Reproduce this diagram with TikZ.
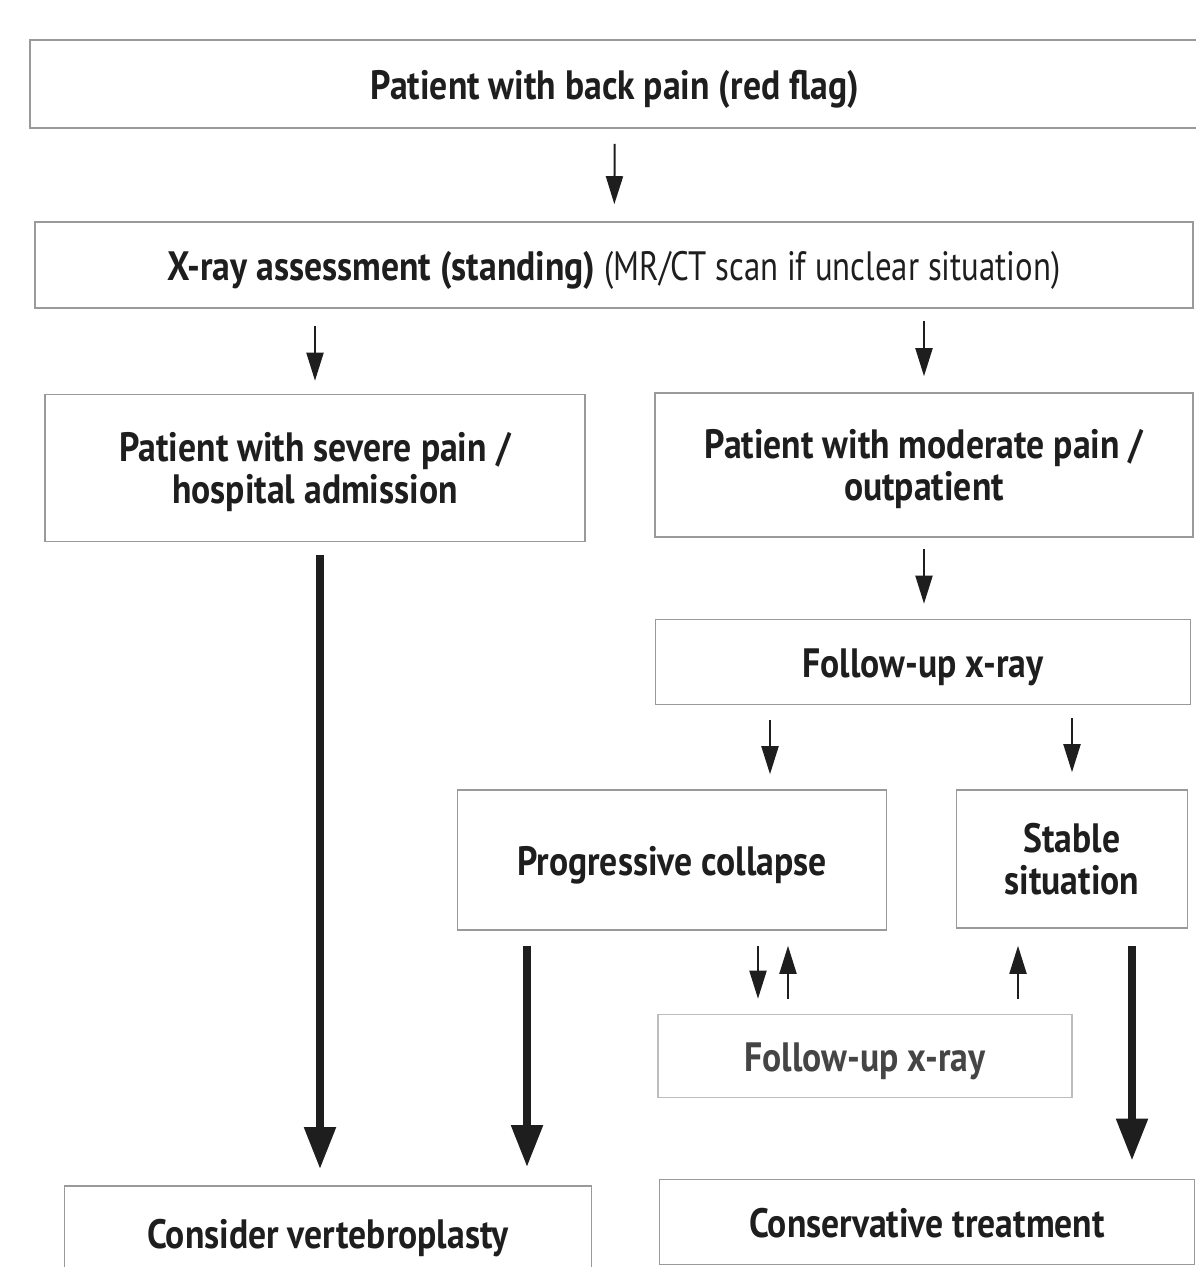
\documentclass[tikz,border=0pt]{standalone}
\usepackage{fontspec}
\setmainfont{PT Sans}[FakeStretch=0.8, BoldFeatures={FakeStretch=0.87}]
\usepackage{tikz}
\usetikzlibrary{arrows.meta}

\definecolor{inkdark}{HTML}{1E1E1E}
\definecolor{boxline}{HTML}{9A9A9A}
\definecolor{boxlight}{HTML}{BDBDBD}
\definecolor{inkgray}{HTML}{454545}

\begin{document}
\begin{tikzpicture}[
  x=1pt, y=-1pt,
  font=\fontsize{41}{42}\selectfont,
  box/.style={draw=boxline, line width=1.6pt, align=center, inner sep=0pt, text=inkdark, font=\fontsize{41}{42}\selectfont\bfseries},
  oneline/.style={text height=31pt, text depth=1pt},
  twoline/.style={text depth=0pt},
  lightbox/.style={box, draw=boxlight, text=inkgray},
  thinarr/.style={draw=inkdark, line width=2pt, -{Triangle[length=28pt,width=17pt]}},
  thickarr/.style={draw=inkdark, line width=8pt, -{Triangle[length=42pt,width=30pt]}}
]
\useasboundingbox (0,0) rectangle (1195,1267);

\node[box, oneline, minimum width=1170pt, minimum height=88pt] (top) at (615,84) {Patient with back pain (red flag)};
\node[box, oneline, minimum width=1158pt, minimum height=86pt] (xray) at (614,265) {X-ray assessment (standing) \mdseries(MR/CT scan if unclear situation)};
\node[box, twoline, minimum width=540pt, minimum height=147pt] (severe) at (315,468) {Patient with severe pain /\\hospital admission};
\node[box, twoline, minimum width=538pt, minimum height=144pt] (moderate) at (924,465) {Patient with moderate pain /\\outpatient};
\node[box, oneline, minimum width=535pt, minimum height=85pt] (fuone) at (923,662) {Follow-up x-ray};
\node[box, oneline, minimum width=429pt, minimum height=140pt] (prog) at (672,860) {Progressive collapse};
\node[box, twoline, minimum width=231pt, minimum height=138pt] (stable) at (1072,859) {Stable\\situation};
\node[lightbox, oneline, minimum width=414pt, minimum height=83pt] (futwo) at (865,1056) {Follow-up x-ray};
\node[box, oneline, minimum width=527pt, minimum height=94pt] (vert) at (328,1233) {Consider vertebroplasty};
\node[box, oneline, minimum width=535pt, minimum height=85pt] (cons) at (927,1222) {Conservative treatment};

\coordinate (pdown) at ([xshift=98pt]prog.north);
\coordinate (pleft) at ([xshift=-145pt]prog.south);
\coordinate (pback) at ([xshift=86pt]prog.south);
\coordinate (pup) at ([xshift=116pt]prog.south);
\coordinate (sup) at ([xshift=-54pt]stable.south);
\coordinate (sright) at ([xshift=60pt]stable.south);

\draw[thinarr, shorten <=15pt, shorten >=17pt] (top) -- (xray);
\draw[thinarr, shorten <=17pt, shorten >=13pt] (xray.south -| severe.north) -- (severe.north);
\draw[thinarr, shorten <=12pt, shorten >=16pt] (xray.south -| moderate.north) -- (moderate.north);
\draw[thickarr, shorten <=13pt, shorten >=16pt] ([xshift=5pt]severe.south) -- ([xshift=5pt]severe.south |- vert.north);
\draw[thinarr, shorten <=11pt, shorten >=15pt] (moderate.south) -- (fuone.north -| moderate.south);
\draw[thinarr, shorten <=15pt, shorten >=15pt] (pdown |- fuone.south) -- (pdown);
\draw[thinarr, shorten <=13pt, shorten >=17pt] (fuone.south -| stable.north) -- (stable.north);

% loop with the second follow-up
\draw[thinarr, shorten <=15pt, shorten >=15pt] (pback) -- (pback |- futwo.north);
\draw[thinarr, shorten <=15pt, shorten >=15pt] (pup |- futwo.north) -- (pup);
\draw[thinarr, shorten <=15pt, shorten >=17pt] (sup |- futwo.north) -- (sup);

\draw[thickarr, shorten <=15pt, shorten >=18pt] (pleft) -- (pleft |- vert.north);
\draw[thickarr, shorten <=17pt, shorten >=18pt] (sright) -- (sright |- cons.north);
\end{tikzpicture}
\end{document}
